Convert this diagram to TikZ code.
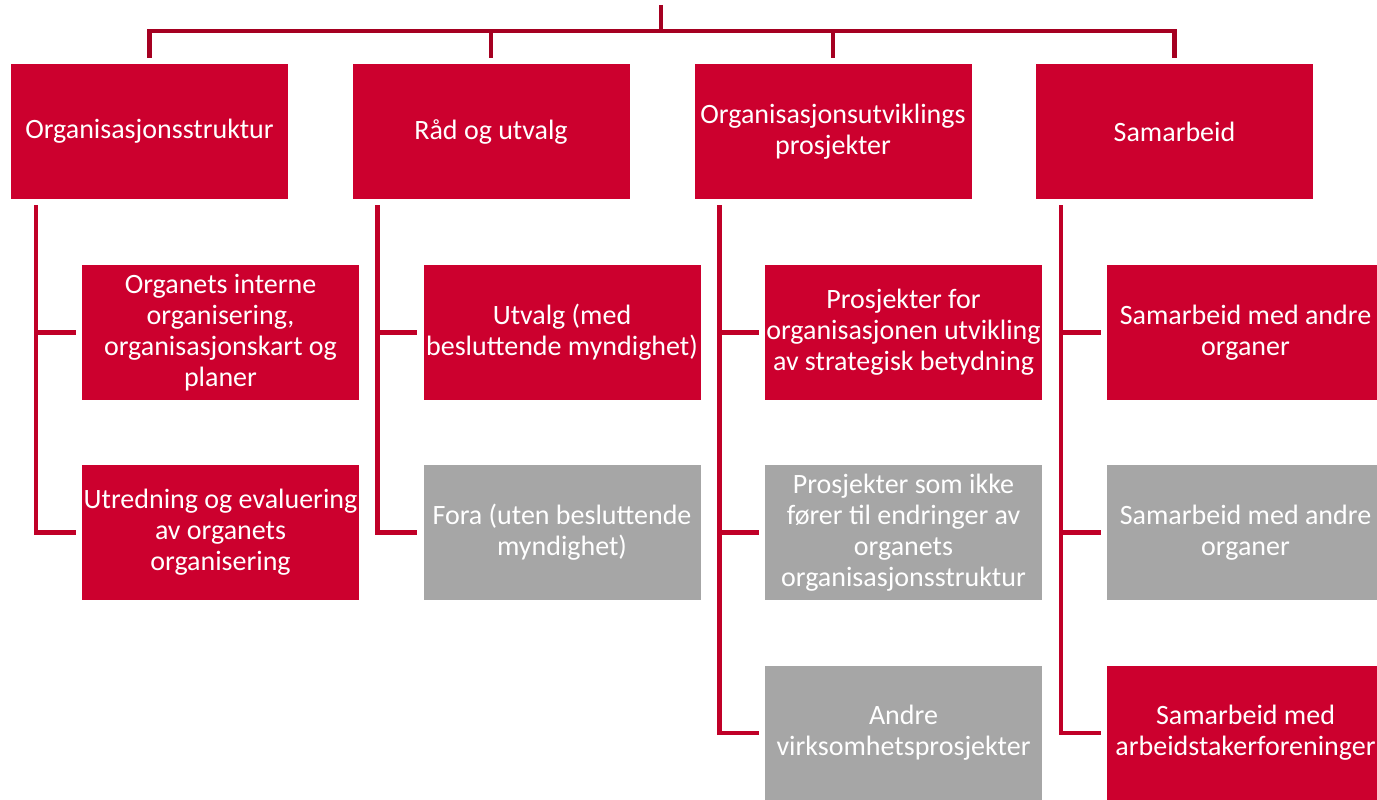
\documentclass[tikz,border=0pt]{standalone}
\usepackage{fontspec}
\setmainfont{Carlito}
\definecolor{boxred}{RGB}{204,0,46}
\definecolor{boxgray}{RGB}{166,166,166}
\definecolor{busred}{RGB}{165,0,33}
\definecolor{branchred}{RGB}{192,0,40}
\tikzset{
  unit/.style={minimum width=277pt, minimum height=135pt, inner sep=0pt,
    text=white, align=center, font=\fontsize{28pt}{31pt}\selectfont},
  redbox/.style={unit, fill=boxred},
  graybox/.style={unit, fill=boxgray},
  busline/.style={draw=busred, line width=4.5pt},
  branchline/.style={draw=branchred, line width=4.5pt},
}
\begin{document}
\begin{tikzpicture}[x=1pt,y=-1pt]
\useasboundingbox (0,0) rectangle (1377,800);

% top level
\node[redbox] (t1) at (149.5,131.5) {Organisasjonsstruktur};
\node[redbox] (t2) at (491,131.5) {Råd og utvalg};
\node[redbox] (t3) at (833,131.5) {Organisasjonsutviklings\\prosjekter};
\node[redbox] (t4) at (1174.5,131.5) {Samarbeid};

% column 1
\node[redbox] (c11) at (220.5,332.5) {Organets interne\\organisering,\\organisasjonskart og\\planer};
\node[redbox] (c12) at (220.5,532.5) {Utredning og evaluering\\av organets\\organisering};

% column 2
\node[redbox] (c21) at (562,332.5) {Utvalg (med\\besluttende myndighet)};
\node[graybox] (c22) at (562,532.5) {Fora (uten besluttende\\myndighet)};

% column 3
\node[redbox] (c31) at (903.5,332.5) {Prosjekter for\\organisasjonen utvikling\\av strategisk betydning};
\node[graybox] (c32) at (903.5,532.5) {Prosjekter som ikke\\fører til endringer av\\organets\\organisasjonsstruktur};
\node[graybox] (c33) at (903.5,733) {Andre\\virksomhetsprosjekter};

% column 4
\node[redbox] (c41) at (1245.5,332.5) {Samarbeid med andre\\organer};
\node[graybox] (c42) at (1245.5,532.5) {Samarbeid med andre\\organer};
\node[redbox] (c43) at (1245.5,733) {Samarbeid med\\arbeidstakerforeninger};

% bus at the top
\coordinate (root) at (661,5);
\coordinate (bus) at (661,31);
\draw[busline] (root) -- (bus);
\draw[busline] ([yshift=6pt]t1.north) -- (t1.north |- bus) -- (t4.north |- bus) -- ([yshift=6pt]t4.north);
\draw[busline] (t2.north |- bus) -- ([yshift=6pt]t2.north);
\draw[busline] (t3.north |- bus) -- ([yshift=6pt]t3.north);

% branches down each column
\draw[branchline] ([xshift=25pt,yshift=-6pt]t1.south west) |- ([xshift=-6pt]c12.west);
\draw[branchline] ([xshift=25pt]t1.south west |- c11.west) -- ([xshift=-6pt]c11.west);

\draw[branchline] ([xshift=25pt,yshift=-6pt]t2.south west) |- ([xshift=-6pt]c22.west);
\draw[branchline] ([xshift=25pt]t2.south west |- c21.west) -- ([xshift=-6pt]c21.west);

\draw[branchline] ([xshift=25pt,yshift=-6pt]t3.south west) |- ([xshift=-6pt]c33.west);
\draw[branchline] ([xshift=25pt]t3.south west |- c31.west) -- ([xshift=-6pt]c31.west);
\draw[branchline] ([xshift=25pt]t3.south west |- c32.west) -- ([xshift=-6pt]c32.west);

\draw[branchline] ([xshift=25pt,yshift=-6pt]t4.south west) |- ([xshift=-6pt]c43.west);
\draw[branchline] ([xshift=25pt]t4.south west |- c41.west) -- ([xshift=-6pt]c41.west);
\draw[branchline] ([xshift=25pt]t4.south west |- c42.west) -- ([xshift=-6pt]c42.west);
\end{tikzpicture}
\end{document}
